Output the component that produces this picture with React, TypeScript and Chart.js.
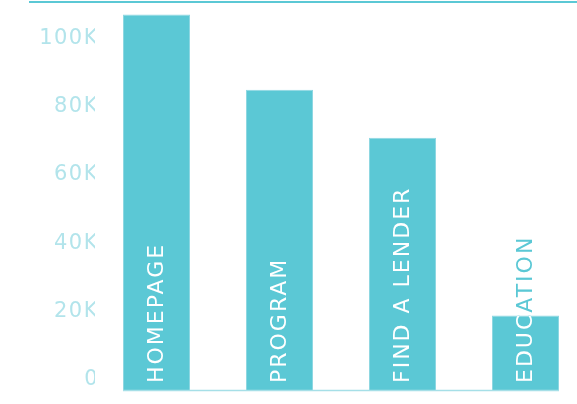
import React, { useEffect, useRef } from "react";
import { Chart, registerables } from "chart.js";

Chart.register(...registerables);

const categories = ["HOMEPAGE", "PROGRAM", "FIND A LENDER", "EDUCATION"];
const visits = [106000, 84000, 70000, 18000];
const tickValues = [0, 20000, 40000, 60000, 80000, 100000];
const tickLabels = ["0", "20K", "40K", "60K", "80K", "100K"];

const BAR = "#5bc8d5";
const TICK = "#b2e4eb";
const Y_MIN = -3800;
const Y_MAX = 109400;

const decorations = {
  id: "decorations",
  beforeDraw(chart: any) {
    chart.ctx.letterSpacing = "1.5px";
  },
  afterDatasetsDraw(chart: any) {
    const ctx = chart.ctx;
    const area = chart.chartArea;
    const bars = chart.getDatasetMeta(0).data;
    ctx.save();
    ctx.letterSpacing = "0px";
    // top rule
    ctx.strokeStyle = BAR;
    ctx.lineWidth = 2;
    ctx.beginPath();
    ctx.moveTo(area.left - 66, area.top - 1);
    ctx.lineTo(chart.width, area.top - 1);
    ctx.stroke();
    // baseline rule
    const first = bars[0];
    const last = bars[bars.length - 1];
    ctx.strokeStyle = "#a6dfe7";
    ctx.lineWidth = 1.5;
    ctx.beginPath();
    ctx.moveTo(first.x - first.width / 2, area.bottom + 0.5);
    ctx.lineTo(last.x + last.width / 2, area.bottom + 0.5);
    ctx.stroke();
    ctx.restore();

    // bar labels
    bars.forEach((bar: any, i: number) => {
      const text = categories[i];
      const drawText = (color: string) => {
        ctx.save();
        ctx.translate(bar.x, bar.base - 7);
        ctx.rotate(-Math.PI / 2);
        ctx.font = "22px 'DejaVu Sans'";
        ctx.letterSpacing = "2px";
        ctx.textAlign = "left";
        ctx.textBaseline = "middle";
        ctx.fillStyle = color;
        ctx.fillText(text, 0, 1);
        ctx.restore();
      };
      drawText(BAR);
      ctx.save();
      ctx.beginPath();
      ctx.rect(bar.x - bar.width / 2, bar.y, bar.width, bar.base - bar.y);
      ctx.clip();
      drawText("#ffffff");
      ctx.restore();
    });
  },
};

export default function App() {
  const ref = useRef<HTMLCanvasElement>(null);
  useEffect(() => {
    if (!ref.current) return;
    const chart = new Chart(ref.current, {
      type: "bar",
      data: {
        labels: categories,
        datasets: [
          {
            data: visits,
            base: Y_MIN,
            backgroundColor: BAR,
            borderColor: "#8fd8e2",
            borderWidth: 1,
            barPercentage: 0.545,
            categoryPercentage: 1,
          },
        ],
      },
      options: {
        animation: false,
        responsive: false,
        maintainAspectRatio: false,
        layout: { padding: { top: 3, bottom: 14, left: 0, right: 13 } },
        plugins: { legend: { display: false }, tooltip: { enabled: false } },
        scales: {
          x: { display: false },
          y: {
            min: Y_MIN,
            max: Y_MAX,
            border: { display: false },
            grid: { display: false, drawTicks: false },
            afterBuildTicks(scale: any) {
              scale.ticks = tickValues.map((v) => ({ value: v }));
            },
            afterFit(scale: any) {
              scale.width = 95;
              scale.paddingTop = 0;
              scale.paddingBottom = 0;
            },
            ticks: {
              padding: -4,
              labelOffset: 3,
              color: TICK,
              font: { family: "'DejaVu Sans'", size: 21 },
              callback: (v: any) => {
                const idx = tickValues.indexOf(Number(v));
                return idx >= 0 ? tickLabels[idx] : "";
              },
            },
          },
        },
      },
      plugins: [decorations],
    });
    return () => chart.destroy();
  }, []);
  return (
    <div style={{ position: "absolute", left: 0, top: 0, width: 577, height: 404, overflow: "hidden", background: "#fff" }}>
      <canvas ref={ref} width={600} height={404} style={{ width: 600, height: 404, display: "block" }} />
    </div>
  );
}
